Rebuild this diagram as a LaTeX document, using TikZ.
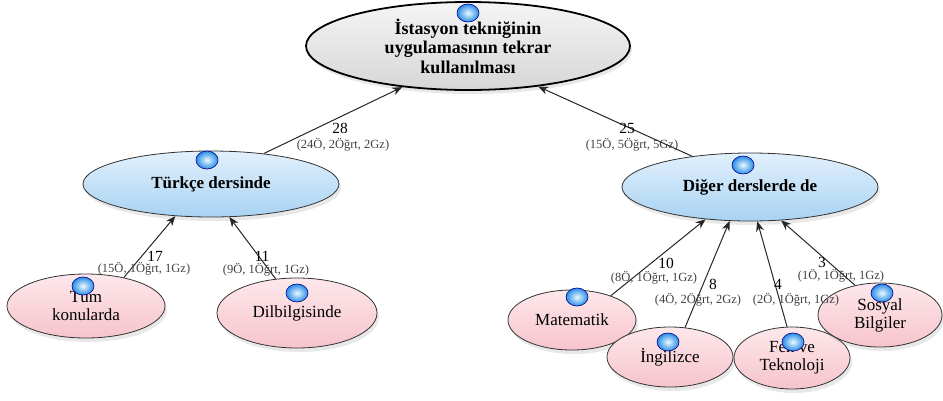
\documentclass[tikz,border=0pt]{standalone}
\usepackage{fontspec}
\setmainfont{Liberation Serif}
\usetikzlibrary{shapes.geometric,arrows.meta,shadows}
\definecolor{bluetop}{RGB}{226,240,252}
\definecolor{bluebot}{RGB}{168,210,242}
\definecolor{pinktop}{RGB}{253,232,235}
\definecolor{pinkbot}{RGB}{246,196,204}
\definecolor{beadin}{RGB}{235,250,255}
\definecolor{beadout}{RGB}{40,140,230}
\begin{document}
\begin{tikzpicture}[x=1pt,y=-1pt,
	oval/.style={ellipse, inner sep=0pt, align=center, draw=black!80, line width=0.8pt, drop shadow={shadow xshift=2pt, shadow yshift=-4pt, opacity=0.18}},
	mainoval/.style={oval, draw=black, line width=1.8pt, top color=white!96!black, bottom color=white!84!black, font=\bfseries\fontsize{18}{19.5}\selectfont},
	catoval/.style={oval, top color=bluetop, bottom color=bluebot, font=\bfseries\fontsize{17}{18}\selectfont},
	leafoval/.style={oval, top color=pinktop, bottom color=pinkbot, font=\fontsize{17}{18}\selectfont},
	bead/.style={ellipse, minimum width=22pt, minimum height=18pt, inner sep=0pt, inner color=beadin, outer color=beadout, draw=blue!55!black, line width=0.6pt},
	link/.style={-{Stealth[length=10pt,width=8pt]}, line width=1pt, black!85},
	cnt/.style={inner sep=0pt, font=\fontsize{15.5}{15.5}\selectfont},
	part/.style={inner sep=0pt, text=black!75, font=\fontsize{12.5}{13}\selectfont}]
		\useasboundingbox (0,0) rectangle (943,400);

		\node[mainoval, minimum width=324pt, minimum height=88pt] (reuse) at (468,46) {İstasyon tekniğinin\\uygulamasının tekrar\\kullanılması};
		\node[catoval, minimum width=256pt, minimum height=66pt] (turkish) at (211,184) {Türkçe dersinde};
		\node[catoval, minimum width=256pt, minimum height=68pt] (other) at (750,187) {Diğer derslerde de};
		\node[leafoval, minimum width=158pt, minimum height=64pt] (alltopics) at (86,306) {Tüm\\konularda};
		\node[leafoval, minimum width=160pt, minimum height=70pt] (grammar) at (297,313) {Dilbilgisinde};
		\node[leafoval, minimum width=128pt, minimum height=60pt] (math) at (572,320) {Matematik};
		\node[leafoval, minimum width=126pt, minimum height=60pt] (english) at (670,357) {İngilizce};
		\node[leafoval, minimum width=116pt, minimum height=62pt] (science) at (792,358) {Fen ve\\Teknoloji};
		\node[leafoval, minimum width=124pt, minimum height=64pt] (social) at (880,315) {Sosyal\\Bilgiler};

		\node[bead] (b-reuse) at (468,13) {};
		\node[bead] (b-turkish) at (207,160) {};
		\node[bead] (b-other) at (743,165) {};
		\node[bead] (b-alltopics) at (83,286) {};
		\node[bead] (b-grammar) at (297,293) {};
		\node[bead] (b-math) at (577,297) {};
		\node[bead] (b-english) at (668,342) {};
		\node[bead] (b-science) at (793,342) {};
		\node[bead] (b-social) at (882,293) {};

		\draw[link] (turkish.30) -- (reuse.212);
		\draw[link] (other.152) -- (reuse.330);
		\draw[link] (alltopics.37) -- (turkish.222);
		\draw[link] (grammar.122) -- (turkish.299);
		\draw[link] (math.32) -- (other.216);
		\draw[link] (english.63) -- (other.239);
		\draw[link] (science.99) -- (other.282);
		\draw[link] (social.130) -- (other.313);

		\node[cnt] (c-turkish) at (340,128) {28};
		\node[part] (p-turkish) at (343,145) {(24Ö, 2Öğrt, 2Gz)};
		\node[cnt] (c-other) at (627,128) {25};
		\node[part] (p-other) at (632,145) {(15Ö, 5Öğrt, 5Gz)};
		\node[cnt] (c-alltopics) at (155,256) {17};
		\node[part] (p-alltopics) at (144,269) {(15Ö, 1Öğrt, 1Gz)};
		\node[cnt] (c-grammar) at (262,256) {11};
		\node[part] (p-grammar) at (266,270) {(9Ö, 1Öğrt, 1Gz)};
		\node[cnt] (c-math) at (666,263) {10};
		\node[part] (p-math) at (654,278) {(8Ö, 1Öğrt, 1Gz)};
		\node[cnt] (c-english) at (713,284) {8};
		\node[part] (p-english) at (698,300) {(4Ö, 2Öğrt, 2Gz)};
		\node[cnt] (c-science) at (778,284) {4};
		\node[part] (p-science) at (796,300) {(2Ö, 1Öğrt, 1Gz)};
		\node[cnt] (c-social) at (822,262) {3};
		\node[part] (p-social) at (841,276) {(1Ö, 1Öğrt, 1Gz)};
	\end{tikzpicture}
\end{document}
